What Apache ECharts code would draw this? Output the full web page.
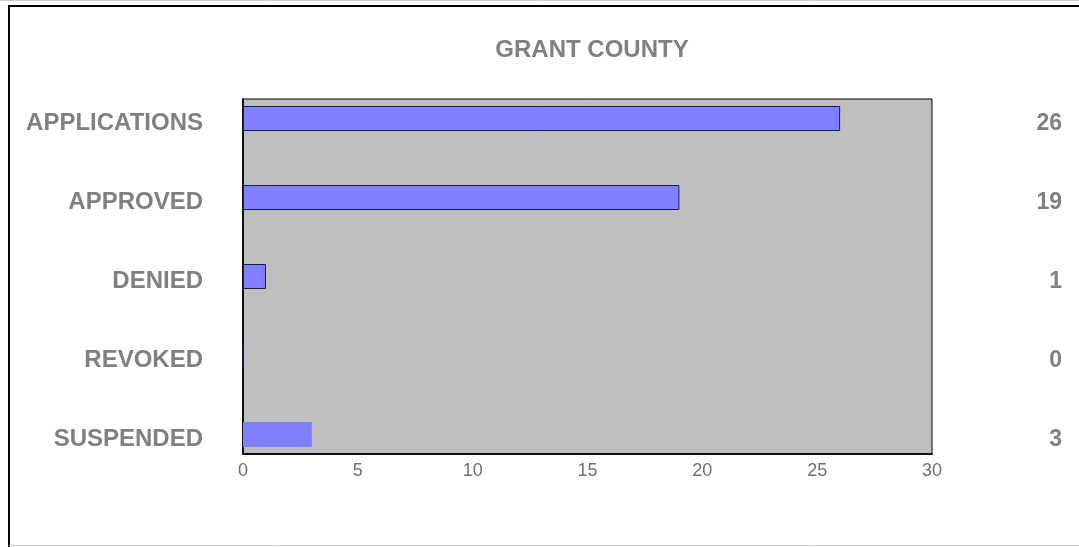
<!DOCTYPE html>
<html>
<head>
<meta charset="utf-8">
<script src="https://cdn.jsdelivr.net/npm/echarts@6/dist/echarts.min.js"></script>
<style>
  html, body { margin: 0; padding: 0; background: #fff; }
  #main { width: 1079px; height: 547px; }
</style>
</head>
<body>
<div id="main"></div>
<script>
// data
var categories = ['APPLICATIONS', 'APPROVED', 'DENIED', 'REVOKED', 'SUSPENDED'];
var counts = [26, 19, 1, 0, 3];
var xTicks = [0, 5, 10, 15, 20, 25, 30];

var chart = echarts.init(document.getElementById('main'));
var labelGray = '#808080';
var font = 'Liberation Sans, Arial';

var barData = counts.map(function (v, i) {
  // last bar has no outline in the original
  var outlined = i !== counts.length - 1;
  return {
    value: v,
    itemStyle: {
      color: '#8080FF',
      borderColor: outlined ? '#1a1a4d' : '#8080FF',
      borderWidth: outlined ? 1 : 0
    }
  };
});

var option = {
  animation: false,
  backgroundColor: '#fff',
  title: {
    text: 'GRANT COUNTY',
    left: 587,
    top: 33,
    textAlign: 'center',
    textStyle: { color: labelGray, fontSize: 24, fontWeight: 'bold', fontFamily: font }
  },
  graphic: [
    { type: 'line', shape: { x1: 0, y1: 0.5, x2: 1079, y2: 0.5 }, style: { stroke: '#ccc', lineWidth: 1 } },
    { type: 'line', shape: { x1: 8, y1: 6, x2: 1079, y2: 6 }, style: { stroke: '#000', lineWidth: 2 } },
    { type: 'line', shape: { x1: 9, y1: 6, x2: 9, y2: 547 }, style: { stroke: '#000', lineWidth: 2 } },
    { type: 'line', shape: { x1: 9, y1: 545.5, x2: 1079, y2: 545.5 }, style: { stroke: '#ccc', lineWidth: 1 } }
  ],
  grid: [
    // plot background
    { left: 243, right: 147, top: 99, bottom: 93, show: true, backgroundColor: '#BFBFBF', borderColor: '#000', borderWidth: 1 },
    // bar layout
    { left: 243, right: 147, top: 79, height: 395 },
    // category / value labels, sitting a little lower than the bars
    { left: 243, right: 147, top: 84, height: 395 }
  ],
  xAxis: [
    {
      gridIndex: 0, type: 'value', min: 0, max: 30, interval: 5,
      axisLine: { show: true, lineStyle: { color: '#111', width: 2 } },
      axisTick: { show: false },
      splitLine: { show: false },
      axisLabel: {
        color: '#707070', fontSize: 18, margin: 8, fontFamily: font,
        formatter: function (v) { return xTicks.indexOf(v) >= 0 ? String(v) : ''; }
      }
    },
    { gridIndex: 1, type: 'value', min: 0, max: 30, show: false },
    { gridIndex: 2, type: 'value', min: 0, max: 30, show: false }
  ],
  yAxis: [
    {
      gridIndex: 0, type: 'value', show: true,
      axisLine: { show: true, lineStyle: { color: '#111', width: 2 } },
      axisTick: { show: false }, axisLabel: { show: false }, splitLine: { show: false }
    },
    {
      gridIndex: 1, type: 'category', data: categories, inverse: true, show: false
    },
    {
      gridIndex: 2, type: 'category', data: categories, inverse: true,
      axisLine: { show: false }, axisTick: { show: false },
      axisLabel: {
        color: labelGray, fontSize: 24, fontWeight: 'bold', margin: 40,
        fontFamily: font
      }
    },
    {
      gridIndex: 2, type: 'category', position: 'right', inverse: true,
      data: counts.map(String),
      axisLine: { show: false }, axisTick: { show: false },
      axisLabel: {
        color: labelGray, fontSize: 23, fontWeight: 'bold', margin: 130, align: 'right',
        fontFamily: font
      }
    }
  ],
  series: [
    {
      type: 'bar',
      xAxisIndex: 1,
      yAxisIndex: 1,
      barWidth: 25,
      data: barData
    }
  ]
};

chart.setOption(option);
</script>
</body>
</html>
